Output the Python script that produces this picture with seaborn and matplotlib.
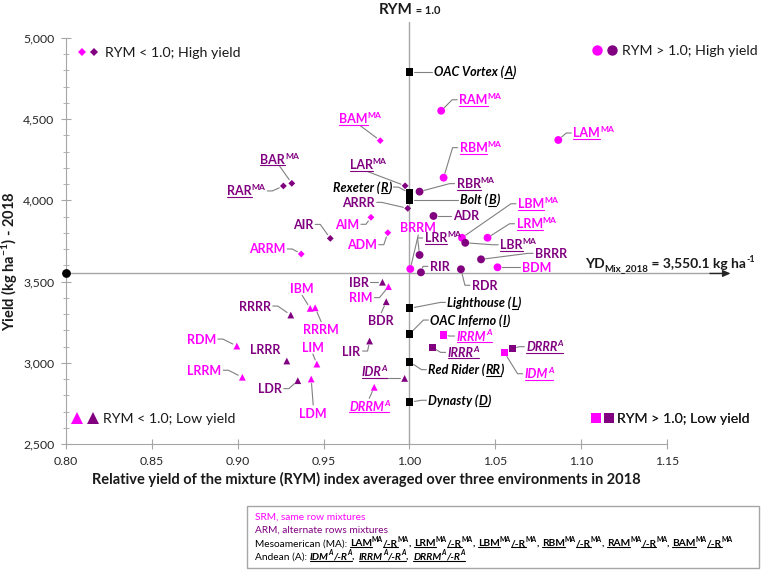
import numpy as np
import pandas as pd
import matplotlib
matplotlib.use('Agg')
import matplotlib.pyplot as plt
import seaborn as sns
from matplotlib.transforms import IdentityTransform
from matplotlib.lines import Line2D
from matplotlib.patches import Rectangle
from matplotlib.legend_handler import HandlerTuple
from matplotlib.ticker import MultipleLocator

# mixtures: name, superscript tag, RYM index, yield (kg/ha)
mix_names = ['BAM', 'BAR', 'RAR', 'LAR', 'ARRR', 'AIM', 'AIR', 'ADM', 'ARRM',
             'RAM', 'LAM', 'RBM', 'RBR', 'ADR', 'LBM', 'LBR', 'LRM', 'LRR',
             'BRRM', 'RIR', 'RDR', 'BRRR', 'BDM',
             'IBR', 'RIM', 'BDR', 'IBM', 'RRRM', 'RRRR', 'RDM', 'LRRR', 'LIM',
             'LIR', 'LRRM', 'LDR', 'LDM', 'IDR', 'DRRM',
             'IRRM', 'IRRR', 'DRRR', 'IDM']
mix_sup = ['MA', 'MA', 'MA', 'MA', '', '', '', '', '',
           'MA', 'MA', 'MA', 'MA', '', 'MA', 'MA', 'MA', 'MA',
           '', '', '', '', '',
           '', '', '', '', '', '', '', '', '',
           '', '', '', '', 'A', 'A',
           'A', 'A', 'A', 'A']
mix_rym = [0.983, 0.9315, 0.9266, 0.9975, 0.999, 0.9776, 0.9539, 0.9874, 0.937,
           1.0185, 1.0867, 1.0199, 1.0059, 1.014, 1.0306, 1.0325, 1.0455, 1.0059,
           1.0005, 1.0067, 1.030, 1.0417, 1.0513,
           0.9843, 0.9878, 0.9865, 0.9422, 0.9451, 0.9309, 0.8995, 0.9286, 0.9461,
           0.9768, 0.9027, 0.935, 0.9428, 0.9972, 0.9795,
           1.0199, 1.0135, 1.0599, 1.0554]
mix_yield = [4368, 4105, 4089, 4090, 3951, 3896, 3766, 3801, 3670,
             4552, 4372, 4140, 4054, 3904, 3770, 3739, 3770, 3664,
             3578, 3557, 3576, 3637, 3588,
             3496, 3469, 3376, 3335, 3339, 3294, 3103, 3011, 2992,
             3134, 2911, 2890, 2900, 2904, 2849,
             3171, 3095, 3087, 3062]

# monocrops
mono_names = ['OAC Vortex', 'Rexeter', 'Bolt', 'Lighthouse', 'OAC Inferno', 'Red Rider', 'Dynasty']
mono_codes = ['A', 'R', 'B', 'L', 'I', 'RR', 'D']
mono_rym = [1.0, 1.0, 1.0, 1.0, 1.0, 1.0, 1.0]
mono_yield = [4793, 4045, 4005, 3335, 3177, 3007, 2757]

yd_mix = 3550.1
x_ticks = [0.80, 0.85, 0.90, 0.95, 1.00, 1.05, 1.10, 1.15]
y_ticks = [2500, 3000, 3500, 4000, 4500, 5000]

legend_texts = ['RYM < 1.0; High yield', 'RYM > 1.0; High yield',
                'RYM < 1.0; Low yield', 'RYM > 1.0; Low yield']

# label offsets from the point in pixels (dx, dy downwards, alignment)
label_pos = {
    'BAM': (-20, -22, 'center'), 'BAR': (-12, -24, 'center'), 'RAR': (-18, 5, 'right'),
    'LAR': (-37, -21, 'center'), 'ARRR': (-33, -6, 'right'), 'AIM': (-12, 7, 'right'),
    'AIR': (-17, -14, 'right'), 'ADM': (-11, 12, 'right'), 'ARRM': (-16, -5, 'right'),
    'RAM': (18, -11, 'left'), 'LAM': (15, -7, 'left'), 'RBM': (16, -30, 'left'),
    'RBR': (37, -8, 'left'), 'ADR': (20, 0, 'left'), 'LBM': (56, -34, 'left'),
    'LBR': (35, 2, 'left'), 'LRM': (29, -14, 'left'), 'LRR': (5, -17, 'left'),
    'BRRM': (8, -41, 'center'), 'RIR': (9, -6, 'left'), 'RDR': (11, 16, 'left'),
    'BRRR': (54, -6, 'left'), 'BDM': (24, 0, 'left'),
    'IBR': (-14, 0, 'right'), 'RIM': (-16, 11, 'right'), 'BDR': (-5, 19, 'center'),
    'IBM': (-8, -20, 'center'), 'RRRM': (6, 22, 'center'), 'RRRR': (-20, -9, 'right'),
    'RDM': (-21, -7, 'right'), 'LRRR': (-6, -12, 'right'), 'LIM': (-4, -17, 'center'),
    'LIR': (-9, 10, 'right'), 'LRRM': (-21, -7, 'right'), 'LDR': (-16, 8, 'right'),
    'LDM': (2, 34, 'center'), 'IDR': (-30, -7, 'center'), 'DRRM': (-5, 19, 'center'),
    'IRRM': (13, 1, 'left'), 'IRRR': (15, 5, 'left'), 'DRRR': (14, -2, 'left'),
    'IDM': (20, 21, 'left'),
    'OAC Vortex': (25, 0, 'left'), 'Rexeter': (-18, -6, 'right'), 'Bolt': (51, 0, 'left'),
    'Lighthouse': (38, -6, 'left'), 'OAC Inferno': (21, -14, 'left'),
    'Red Rider': (19, 8, 'left'), 'Dynasty': (19, -2, 'left'),
}
no_leader = ['LRRR']

PINK = '#FF00FF'
PURPLE = '#800080'
GRAY = '#A6A6A6'
LEAD = '#808080'
W, H = 765, 570
PX = 100 / 72

sns.set_style('white')
plt.rcParams['font.family'] = ['Lato', 'DejaVu Sans']
plt.rcParams['mathtext.fontset'] = 'custom'
plt.rcParams['mathtext.rm'] = 'Lato'
plt.rcParams['mathtext.bf'] = 'Lato:bold'
plt.rcParams['mathtext.it'] = 'Lato:italic'


def quadrant(r, y):
    if r < 1.0:
        return 'lo_hi' if y > yd_mix else 'lo_lo'
    return 'hi_hi' if y > yd_mix else 'hi_lo'


df_mix = pd.DataFrame({'name': mix_names, 'sup': mix_sup, 'RYM': mix_rym, 'Yield': mix_yield})
df_mix['Arrangement'] = np.where(df_mix['name'].str.endswith('M'), 'SRM', 'ARM')
df_mix['Quadrant'] = [quadrant(r, y) for r, y in zip(df_mix['RYM'], df_mix['Yield'])]
df_mono = pd.DataFrame({'name': mono_names, 'sup': mono_codes, 'RYM': mono_rym, 'Yield': mono_yield})
df_mono['Arrangement'] = 'Mono'
df_mono['Quadrant'] = 'mono'
df = pd.concat([df_mix, df_mono], ignore_index=True)

fig = plt.figure(figsize=(W / 100, H / 100), dpi=100)
ax = fig.add_axes([66 / W, 126 / H, 601 / W, 406 / H])

sns.scatterplot(data=df, x='RYM', y='Yield', hue='Arrangement', style='Quadrant', size='Quadrant',
                palette={'SRM': PINK, 'ARM': PURPLE, 'Mono': 'black'},
                markers={'lo_hi': 'D', 'hi_hi': 'o', 'lo_lo': '^', 'hi_lo': 's', 'mono': 's'},
                sizes={'lo_hi': 12, 'hi_hi': 32, 'lo_lo': 24, 'hi_lo': 26, 'mono': 32},
                linewidth=0, legend=False, ax=ax, zorder=4)

ax.set_xlim(0.80, 1.15)
ax.set_ylim(2500, 5000)

# reference lines
ax.plot([1.0, 1.0], [2500, 5098], color=GRAY, lw=1, clip_on=False, zorder=1)
ax.plot([0.80, 1.181], [yd_mix, yd_mix], color=GRAY, lw=1, clip_on=False, zorder=1)
ax.annotate('', xy=(1.187, yd_mix), xytext=(1.175, yd_mix),
            arrowprops=dict(arrowstyle='-|>,head_length=0.45,head_width=0.2', color='#262626',
                            lw=1, shrinkA=0, shrinkB=0), annotation_clip=False)
ax.scatter([0.80], [yd_mix], s=28, color='black', clip_on=False, zorder=5)

sns.despine(ax=ax)
for sp in ['left', 'bottom']:
    ax.spines[sp].set_color(GRAY)
ax.set_xticks(x_ticks)
ax.set_xticklabels([f'{v:.2f}' for v in x_ticks])
ax.set_yticks(y_ticks)
ax.set_yticklabels([f'{v:,}' for v in y_ticks])
ax.yaxis.set_minor_locator(MultipleLocator(100))
ax.tick_params(which='both', bottom=True, left=True, direction='inout', color=GRAY,
               labelsize=8.8, labelcolor='#262626')
ax.tick_params(which='major', length=7)
ax.tick_params(axis='x', pad=5)
ax.tick_params(axis='y', pad=5)
ax.tick_params(axis='y', which='minor', length=5)
ax.set_xlabel('Relative yield of the mixture (RYM) index averaged over three environments in 2018',
              fontsize=10.5, fontweight='bold', labelpad=4, color='#1a1a1a')
ax.set_ylabel(r'Yield (kg ha$^{\mathbf{-1}}$) - 2018', fontsize=10.5, fontweight='bold', color='#1a1a1a')
ax.yaxis.set_label_coords(-0.077, 0.45)

# quadrant legends
def mk(marker, color, ms):
    return Line2D([], [], marker=marker, color=color, ls='none', ms=ms, mew=0)

leg_specs = [
    (('D', 4.0), legend_texts[0], (0.016, 0.963), 1.69, 0.37),
    (('o', 7.5), legend_texts[1], (0.872, 0.969), 2.03, 0.21),
    (('^', 8.0), legend_texts[2], (0.0045, 0.061), 2.25, 0.14),
    (('s', 6.5), legend_texts[3], (0.871, 0.061), 1.83, 0.13),
]
for (marker, ms), txt, anchor, hl, tp in leg_specs:
    lg = ax.legend(handles=[(mk(marker, PINK, ms), mk(marker, PURPLE, ms))], labels=[txt],
                   handler_map={tuple: HandlerTuple(ndivide=None, pad=0)},
                   loc='center left', bbox_to_anchor=anchor, frameon=False, borderpad=0,
                   borderaxespad=0, handlelength=hl, handletextpad=tp, fontsize=10.2)
    for t in lg.get_texts():
        t.set_color('#1a1a1a')
    ax.add_artist(lg)

fig.canvas.draw()
rend = fig.canvas.get_renderer()


def draw_runs(x, y, runs, ha='left', size=9.0):
    # x, y display pixels, y = visual centre of capitals
    base_px = size * PX
    baseline = y - 0.36 * base_px
    made = []
    total = 0
    for txt, opt in runs:
        small = opt.get('sup') or opt.get('sub')
        fs = opt.get('size', size * 0.68 if small else size)
        t = fig.text(0, 0, txt + '|', fontsize=fs, color=opt.get('color', 'black'),
                     fontweight=opt.get('weight', 'normal'), fontstyle=opt.get('style', 'normal'),
                     transform=IdentityTransform(), ha='left', va='baseline', zorder=6)
        w_full = t.get_window_extent(rend).width
        t.set_text('|')
        w_bar = t.get_window_extent(rend).width
        t.set_text(txt)
        w = w_full - w_bar
        made.append((t, w, opt))
        total += w
    if ha == 'left':
        x0 = x
    elif ha == 'right':
        x0 = x - total
    else:
        x0 = x - total / 2
    cx = x0
    for t, w, opt in made:
        yy = baseline
        if opt.get('sup'):
            yy += 0.42 * base_px
        if opt.get('sub'):
            yy -= 0.2 * base_px
        t.set_position((cx, yy))
        if opt.get('under'):
            uy = baseline - 0.13 * base_px
            fig.add_artist(Line2D([cx, cx + w], [uy, uy], transform=IdentityTransform(),
                                  color=opt.get('color', 'black'), lw=0.8, zorder=6))
        cx += w
    return x0, x0 + total


def label_runs(row):
    if row['Arrangement'] == 'Mono':
        st = dict(color='black', weight='bold', style='italic')
        return [(row['name'] + ' (', st), (row['sup'], dict(st, under=True)), (')', st)]
    col = PINK if row['Arrangement'] == 'SRM' else PURPLE
    st = dict(color=col, weight='bold')
    if row['sup'] == 'MA':
        return [(row['name'], dict(st, under=True)), ('MA', dict(st, sup=True))]
    if row['sup'] == 'A':
        st = dict(st, style='italic', under=True)
        return [(row['name'], st), ('A', dict(st, sup=True))]
    return [(row['name'], st)]


for _, row in df.iterrows():
    px, py = ax.transData.transform((row['RYM'], row['Yield']))
    dx, dy, ha = label_pos[row['name']]
    lx, ly = px + dx, py - dy
    x0, x1 = draw_runs(lx, ly, label_runs(row), ha=ha)
    if row['name'] in no_leader:
        continue
    if ha == 'left':
        pts = [(x0 - 2, ly), (x0 - 7, ly)]
    elif ha == 'right':
        pts = [(x1 + 2, ly), (x1 + 7, ly)]
    else:
        pts = [((x0 + x1) / 2, ly - 7 if py < ly else ly + 8)]
    ex, ey = pts[-1]
    vx, vy = ex - px, ey - py
    d = np.hypot(vx, vy)
    gap = 5 if row['Arrangement'] == 'Mono' else 4.5
    if d > gap:
        pts.append((px + vx / d * gap, py + vy / d * gap))
    xs, ys = zip(*pts)
    fig.add_artist(Line2D(xs, ys, transform=IdentityTransform(), color=LEAD, lw=0.8, zorder=3))

# title at RYM = 1.0
tx, _ = ax.transData.transform((1.0, yd_mix))
draw_runs(tx, H - 8, [('RYM', dict(weight='bold', color='#1a1a1a')),
                      (' = 1.0', dict(weight='bold', color='#1a1a1a', size=8.0))],
          ha='center', size=11)

# YD_mix label
st = dict(weight='bold', color='#1a1a1a')
draw_runs(755, H - 263, [('YD', st), ('Mix_2018', dict(st, sub=True, size=7.0)),
                         (' = 3,550.1 kg ha', st), ('-1', dict(st, sup=True, size=6.5))],
          ha='right', size=10)

# notes box
fig.add_artist(Rectangle((247, H - 568), 512, 62, transform=IdentityTransform(),
                         facecolor='white', edgecolor=GRAY, lw=1, zorder=2))
bs = 7.3
draw_runs(255, H - 516, [('SRM, same row mixtures', dict(color=PINK))], size=bs)
draw_runs(255, H - 529, [('ARM, alternate rows mixtures', dict(color=PURPLE))], size=bs)
meso = [('Mesoamerican (MA): ', dict(color='black'))]
ma_list = ['LAM', 'LRM', 'LBM', 'RBM', 'RAM', 'BAM']
bst = dict(color='black', weight='bold')
for i, nm in enumerate(ma_list):
    meso += [(nm, dict(bst, under=True)), ('MA', dict(bst, sup=True)),
             ('/-R', dict(bst, under=True)), ('MA', dict(bst, sup=True))]
    if i < len(ma_list) - 1:
        meso.append((', ', bst))
draw_runs(255, H - 542.5, meso, size=bs)
andean = [('Andean (A): ', dict(color='black'))]
a_list = ['IDM', 'IRRM', 'DRRM']
ist = dict(color='black', weight='bold', style='italic', under=True)
for i, nm in enumerate(a_list):
    andean += [(nm, ist), ('A', dict(ist, sup=True)), ('/-R', ist), ('A', dict(ist, sup=True))]
    if i < len(a_list) - 1:
        andean.append((',  ', dict(color='black', weight='bold')))
draw_runs(255, H - 556, andean, size=bs)

fig.savefig('out.png', dpi=100)
